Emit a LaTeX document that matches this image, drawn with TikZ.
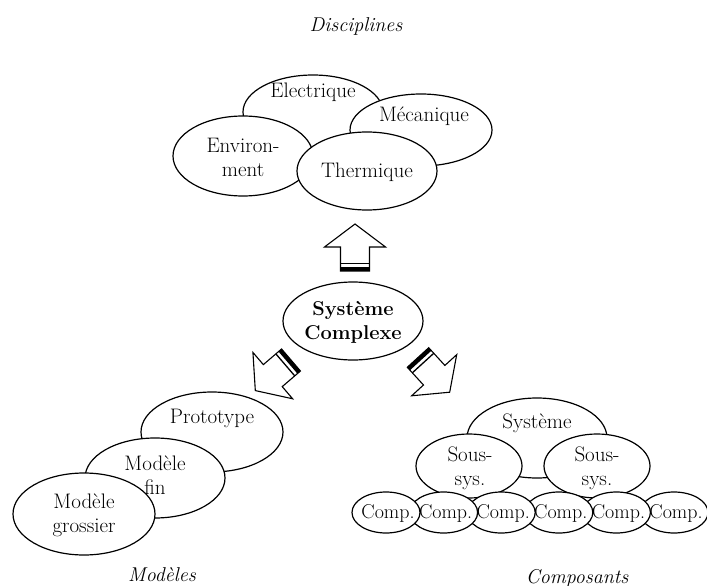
\documentclass[tikz,border=0pt]{standalone}
\usetikzlibrary{shapes.geometric}
\tikzset{
  ell/.style={draw, ellipse, fill=white, line width=1.2pt, inner sep=0pt},
  txt/.style={font=\fontsize{21}{24}\selectfont, align=center, inner sep=0pt},
  ttl/.style={font=\fontsize{20}{24}\selectfont\itshape, inner sep=0pt},
  barrow/.pic={
    \draw[line width=1.1pt, fill=white, line join=miter]
      (-14.5pt,0pt) -- (-14.5pt,24pt) -- (-30.5pt,24pt) -- (0pt,47pt)
      -- (30.5pt,24pt) -- (14.5pt,24pt) -- (14.5pt,0pt) -- cycle;
    \fill (-14.5pt,0pt) rectangle (14.5pt,4pt);
    \draw[line width=1.3pt] (-14.5pt,7.5pt) -- (14.5pt,7.5pt);
  }
}
\begin{document}
\begin{tikzpicture}[x=1pt,y=-1pt]
\useasboundingbox (0,0) rectangle (707,586);
% Disciplines
\node[ttl] (tdisc) at (356,27) {Disciplines};
\node[ell, minimum width=140pt, minimum height=74pt] (elec) at (313,112) {};
\node[ell, minimum width=142pt, minimum height=72pt] (meca) at (421,130) {};
\node[ell, minimum width=140pt, minimum height=80pt] (env) at (243,156) {};
\node[ell, minimum width=140pt, minimum height=78pt] (therm) at (367,171) {};
\node[txt] (telec) at (313,92) {Electrique};
\node[txt] (tmeca) at (424,116) {Mécanique};
\node[txt] (tenv) at (243,157) {Environ-\\ment};
\node[txt] (ttherm) at (367,172) {Thermique};
% central
\node[ell, minimum width=140pt, minimum height=78pt] (sc) at (353,321) {};
\node[txt, font=\fontsize{20}{24}\selectfont\bfseries] (tsc) at (353,322) {Système\\Complexe};
% arrows
\pic at (355,271) {barrow};
\pic[rotate=130.6] at (291,360) {barrow};
\pic[rotate=-137.6] at (418,357.5) {barrow};
% Modeles
\node[ell, minimum width=142pt, minimum height=80pt] (proto) at (212,432) {};
\node[ell, minimum width=140pt, minimum height=80pt] (fin) at (155,478) {};
\node[ell, minimum width=142pt, minimum height=82pt] (gross) at (84,514) {};
\node[txt] (tproto) at (212,418) {Prototype};
\node[txt] (tfin) at (155,475) {Modèle\\fin};
\node[txt] (tgross) at (84,515) {Modèle\\grossier};
\node[ttl] (tmod) at (162,575) {Modèles};
% Composants
\node[ell, minimum width=140pt, minimum height=80pt] (sys) at (537,438) {};
\node[ell, minimum width=106pt, minimum height=64pt] (ssa) at (469,466) {};
\node[ell, minimum width=106pt, minimum height=64pt] (ssb) at (597,466) {};
\node[txt] (tsys) at (537,423) {Système};
\node[txt] (tssa) at (470,468) {Sous-\\sys.};
\node[txt] (tssb) at (597,468) {Sous-\\sys.};
\foreach \k in {5,4,...,0} {
  \node[ell, minimum width=68pt, minimum height=41pt] (c\k) at ({386+\k*57.6},512.5) {};
  \node[txt, font=\fontsize{20}{24}\selectfont] (tc\k) at ({388+\k*57.6},513) {Comp.};
}
\node[ttl] (tcomp) at (577,578) {Composants};
\end{tikzpicture}
\end{document}
